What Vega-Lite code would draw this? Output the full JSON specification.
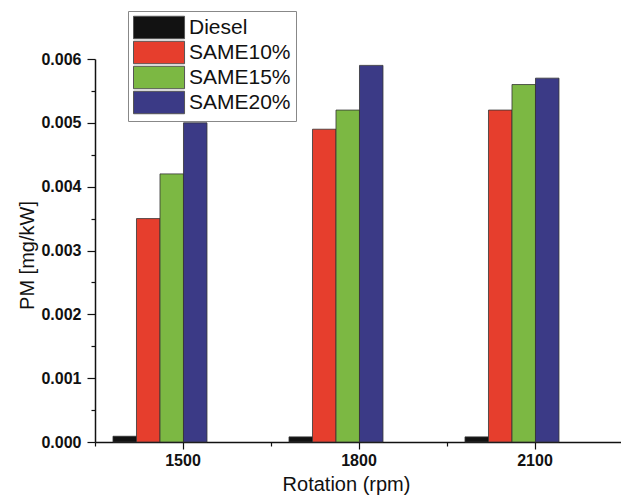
{
  "$schema": "https://vega.github.io/schema/vega-lite/v6.json",
  "width": 528,
  "height": 383,
  "autosize": {"type": "none"},
  "padding": {"left": 95, "top": 59, "right": 0, "bottom": 53},
  "background": "white",
  "config": {
    "view": {"stroke": null},
    "font": "Liberation Sans",
    "axis": {"grid": false}
  },
  "data": {
    "values": [
      {"rpm": 1500, "fuel": "Diesel", "pm": 0.00009},
      {"rpm": 1500, "fuel": "SAME10%", "pm": 0.0035},
      {"rpm": 1500, "fuel": "SAME15%", "pm": 0.0042},
      {"rpm": 1500, "fuel": "SAME20%", "pm": 0.0050},
      {"rpm": 1800, "fuel": "Diesel", "pm": 0.00008},
      {"rpm": 1800, "fuel": "SAME10%", "pm": 0.0049},
      {"rpm": 1800, "fuel": "SAME15%", "pm": 0.0052},
      {"rpm": 1800, "fuel": "SAME20%", "pm": 0.0059},
      {"rpm": 2100, "fuel": "Diesel", "pm": 0.00008},
      {"rpm": 2100, "fuel": "SAME10%", "pm": 0.0052},
      {"rpm": 2100, "fuel": "SAME15%", "pm": 0.0056},
      {"rpm": 2100, "fuel": "SAME20%", "pm": 0.0057}
    ]
  },
  "layer": [
    {
      "mark": {"type": "bar", "stroke": "#333333", "strokeWidth": 0.8},
      "encoding": {
        "x": {
          "field": "rpm",
          "type": "ordinal",
          "scale": {"paddingInner": 0, "paddingOuter": 0},
          "axis": {
            "orient": "bottom",
            "title": "Rotation (rpm)",
            "labelAngle": 0,
            "labelFont": "Liberation Sans",
            "labelFontWeight": "bold",
            "labelFontSize": 16,
            "labelColor": "#111111",
            "labelPadding": 3,
            "tickSize": 7,
            "tickColor": "#111111",
            "tickWidth": 1.2,
            "bandPosition": 0.5,
            "domainColor": "#111111",
            "domainWidth": 1.5,
            "titleFont": "Liberation Sans",
            "titleFontSize": 20,
            "titleFontWeight": "normal",
            "titleColor": "#111111",
            "titleX": 251,
            "titleY": 48,
            "titleBaseline": "alphabetic",
            "titleAlign": "center"
          }
        },
        "xOffset": {
          "field": "fuel",
          "type": "nominal",
          "scale": {
            "domain": ["Diesel", "SAME10%", "SAME15%", "SAME20%", "_a", "_b"],
            "paddingInner": 0,
            "paddingOuter": 0.745,
            "align": 0.514
          }
        },
        "y": {
          "field": "pm",
          "type": "quantitative",
          "scale": {"domain": [0, 0.006], "nice": false, "zero": true},
          "axis": {
            "orient": "left",
            "title": "PM [mg/kW]",
            "values": [0, 0.001, 0.002, 0.003, 0.004, 0.005, 0.006],
            "format": ".3f",
            "labelFont": "Liberation Sans",
            "labelFontWeight": "bold",
            "labelFontSize": 16,
            "labelColor": "#111111",
            "labelPadding": 6,
            "tickSize": 8,
            "tickColor": "#111111",
            "tickWidth": 1.2,
            "domainColor": "#111111",
            "domainWidth": 1.5,
            "titleFont": "Liberation Sans",
            "titleFontSize": 20,
            "titleFontWeight": "normal",
            "titleColor": "#111111",
            "titleAngle": 270,
            "titleX": -62,
            "titleY": 196,
            "titleBaseline": "alphabetic",
            "titleAlign": "center"
          }
        },
        "color": {
          "field": "fuel",
          "type": "nominal",
          "scale": {
            "domain": ["Diesel", "SAME10%", "SAME15%", "SAME20%"],
            "range": ["#121212", "#e63e2d", "#7cb843", "#3b3a86"]
          },
          "legend": {
            "orient": "none",
            "legendX": 33,
            "legendY": -48,
            "title": null,
            "symbolType": "M-1,-1.02H3.64V1.02H-1Z",
            "symbolSize": 484,
            "symbolStrokeColor": "#555555",
            "symbolStrokeWidth": 1,
            "symbolOpacity": 1,
            "labelFont": "Liberation Sans",
            "labelFontSize": 21,
            "labelColor": "#111111",
            "labelOffset": 33,
            "fillColor": "white",
            "strokeColor": "#888888",
            "padding": 5,
            "rowPadding": -2
          }
        }
      }
    },
    {
      "mark": {"type": "bar", "opacity": 0},
      "encoding": {
        "x": {
          "field": "rpm",
          "type": "ordinal",
          "axis": {
            "orient": "bottom",
            "title": null,
            "labels": false,
            "domain": false,
            "bandPosition": 0,
            "tickSize": 4,
            "tickColor": "#111111",
            "tickWidth": 1.2
          }
        },
        "y": {
          "field": "pm",
          "type": "quantitative",
          "axis": {
            "orient": "left",
            "title": null,
            "labels": false,
            "domain": false,
            "values": [0.0005, 0.0015, 0.0025, 0.0035, 0.0045, 0.0055],
            "tickSize": 4,
            "tickColor": "#111111",
            "tickWidth": 1.2
          }
        }
      }
    }
  ],
  "resolve": {"axis": {"x": "independent", "y": "independent"}}
}
